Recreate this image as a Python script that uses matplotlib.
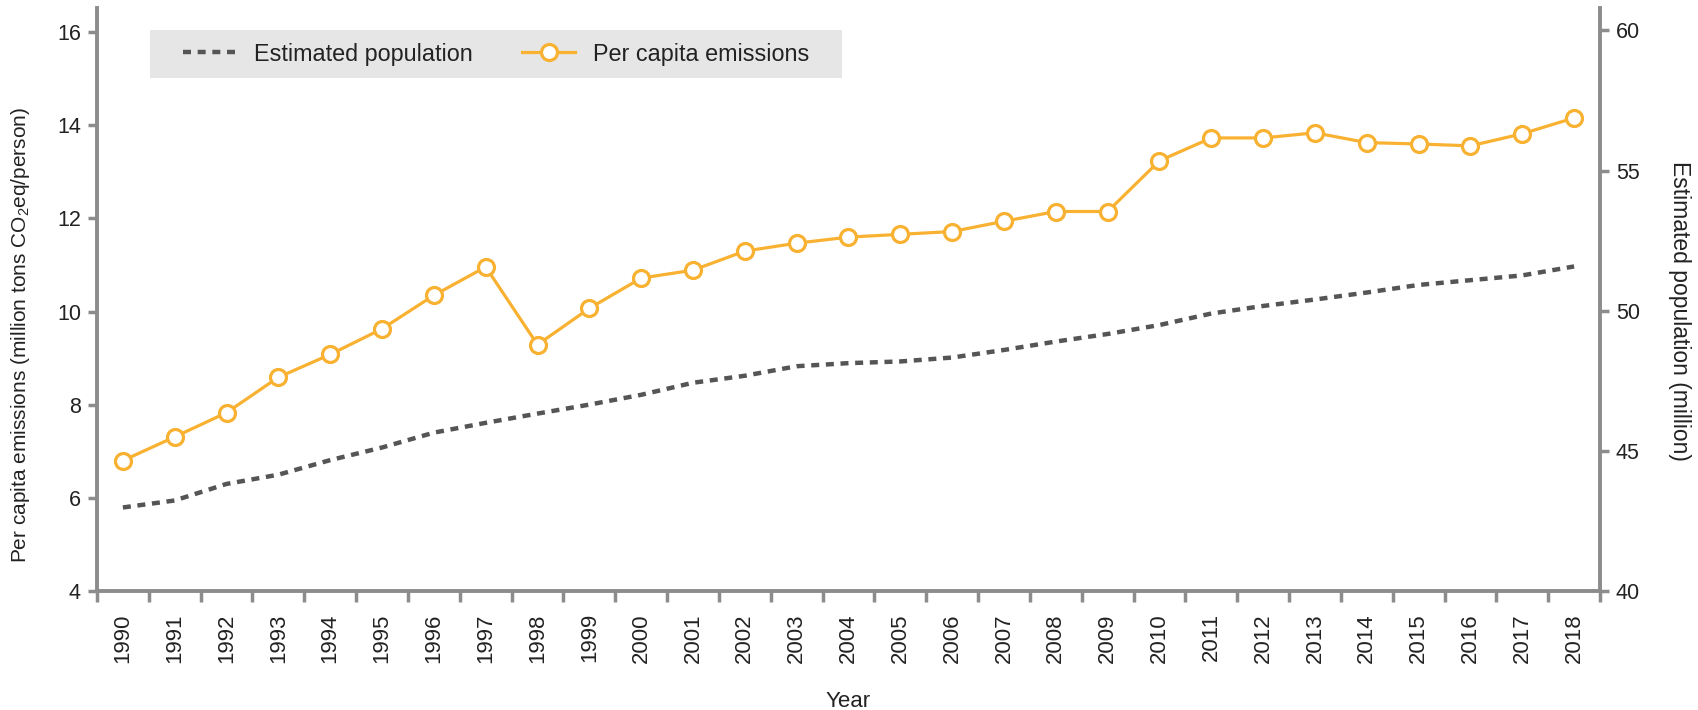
import numpy as np
import matplotlib.pyplot as plt
from matplotlib.lines import Line2D
from matplotlib.patches import Rectangle

plt.rcParams['font.family'] = ['Liberation Sans', 'DejaVu Sans']
plt.rcParams['mathtext.fontset'] = 'custom'
plt.rcParams['mathtext.rm'] = 'Liberation Sans'
plt.rcParams['mathtext.it'] = 'Liberation Sans:italic'

years = list(range(1990, 2019))
emissions = [6.80, 7.31, 7.83, 8.59, 9.08, 9.63, 10.35, 10.96, 9.29, 10.07,
             10.72, 10.89, 11.30, 11.47, 11.60, 11.66, 11.72, 11.94, 12.15, 12.15,
             13.24, 13.73, 13.73, 13.84, 13.63, 13.60, 13.56, 13.82, 14.16]
population = [42.98, 43.23, 43.82, 44.15, 44.67, 45.12, 45.65, 46.00, 46.33, 46.65,
              47.00, 47.43, 47.68, 48.02, 48.13, 48.19, 48.33, 48.60, 48.90, 49.17,
              49.49, 49.90, 50.17, 50.40, 50.65, 50.92, 51.09, 51.26, 51.58]

orange = '#F9B131'
grey_line = '#555555'
spine_c = '#8c8c8c'
text_c = '#222222'
dash = (1.8, 1.5)

fig = plt.figure(figsize=(16.98, 7.10), dpi=100)
ax = fig.add_axes([0.0571, 0.1676, 0.8852, 0.8211])
ax2 = ax.twinx()

x = np.arange(len(years))
ax2.plot(x, population, color=grey_line, lw=3.2, dashes=dash, zorder=2)
ax.plot(x, emissions, color=orange, lw=2.3, marker='o', ms=11.5,
        mfc='white', mec=orange, mew=2.3, zorder=3)
ax.set_zorder(ax2.get_zorder() + 1)
ax.patch.set_visible(False)

ax.set_xlim(-0.5, len(years) - 0.5)
ax.set_ylim(4, 16.52)
ax2.set_ylim(40, 60.8)
ax.set_yticks([4, 6, 8, 10, 12, 14, 16])
ax2.set_yticks([40, 45, 50, 55, 60])

ax.set_xticks(np.arange(-0.5, len(years)), labels=[])
ax.set_xticks(x, labels=[str(y) for y in years], minor=True)
ax.tick_params(axis='x', which='minor', length=0, rotation=90, pad=16,
               labelsize=16, colors=text_c)
ax.tick_params(axis='x', which='major', length=8, width=2.5, color=spine_c)
ax.tick_params(axis='y', length=6.5, width=2.5, color=spine_c, labelsize=15.5,
               labelcolor=text_c, pad=5)
ax2.tick_params(axis='y', length=6.5, width=2.5, color=spine_c, labelsize=15.5,
                labelcolor=text_c, pad=5)

for a in (ax, ax2):
    for s in a.spines.values():
        s.set_color(spine_c)
        s.set_linewidth(2.8)
    a.spines['top'].set_visible(False)
ax.spines['right'].set_visible(False)
ax2.spines['left'].set_visible(False)
ax2.spines['bottom'].set_visible(False)

ax.set_ylabel('Per capita emissions (million tons CO$_2$eq/person)', fontsize=15,
              color=text_c)
ax.yaxis.set_label_coords(-0.043, 0.44)
ax2.set_ylabel('Estimated population (million)', fontsize=16.5, color=text_c,
               rotation=270, va='bottom')
ax2.yaxis.set_label_coords(1.045, 0.48)
ax.set_xlabel('Year', fontsize=16, color=text_c, labelpad=20)

# legend background box
ax.add_patch(Rectangle((0.0353, 0.880), 0.4604, 0.082, transform=ax.transAxes,
                       facecolor='#e6e6e6', edgecolor='none', zorder=5))
handles = [Line2D([], [], color=grey_line, lw=3.2, dashes=dash),
           Line2D([], [], color=orange, lw=2.3, marker='o', ms=11.5,
                  mfc='white', mec=orange, mew=2.3)]
leg = ax.legend(handles, ['Estimated population', 'Per capita emissions'],
                loc='center', bbox_to_anchor=(0.2655, 0.921), ncol=2,
                fontsize=16.8, frameon=False, handlelength=2.3,
                columnspacing=2.1, borderpad=0, borderaxespad=0,
                handletextpad=0.75)
leg.set_zorder(6)
for t in leg.get_texts():
    t.set_color(text_c)

fig.savefig('out.png', dpi=100)
